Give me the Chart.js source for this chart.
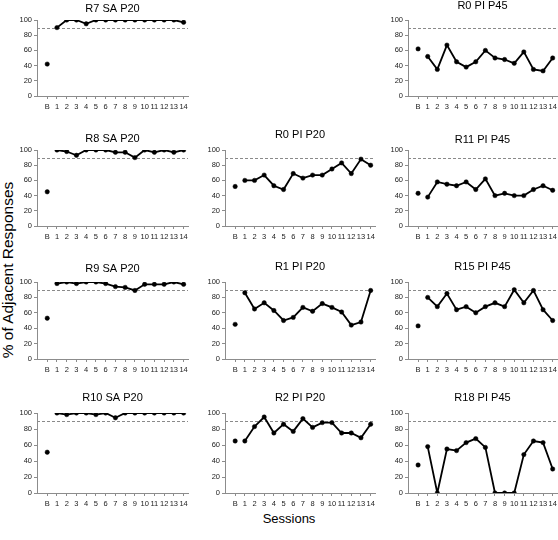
<!DOCTYPE html>
<html>
<head>
<meta charset="utf-8">
<script src="https://cdn.jsdelivr.net/npm/chart.js@4.4.1/dist/chart.umd.min.js"></script>
<style>
  body { margin: 0; background: #fff; }
  #page { position: relative; width: 558px; height: 540px; overflow: hidden; }
  #page canvas { position: absolute; }
  .axis-title { position: absolute; color: #000; white-space: nowrap; }
  #ytitle { left: 8px; top: 270px; font: 15.5px "Liberation Sans", Arial, sans-serif;
            transform: translate(-50%, -50%) rotate(-90deg); }
  #xtitle { left: 289px; top: 518px; font: 13px "Liberation Sans", Arial, sans-serif;
            transform: translate(-50%, -50%); }
</style>
</head>
<body>
<div id="page">
  <div class="axis-title" id="ytitle">% of Adjacent Responses</div>
  <div class="axis-title" id="xtitle">Sessions</div>
</div>
<script>
// x categories: baseline "B" then sessions 1-14
const sessionLabels = ["B", "1", "2", "3", "4", "5", "6", "7", "8", "9", "10", "11", "12", "13", "14"];
const yTicks = [0, 20, 40, 60, 80, 100];
const criterion = 90;

// % adjacent responses, first value is baseline (B)
const r7SaP20  = [42, 90, 100, 100, 95, 100, 100, 100, 100, 100, 100, 100, 100, 100, 97];
const r0PiP45  = [62, 52, 35, 67, 45, 38, 45, 60, 50, 48, 43, 58, 35, 33, 50];
const r8SaP20  = [45, 100, 98, 93, 100, 100, 100, 97, 97, 90, 100, 97, 100, 97, 100];
const r0PiP20  = [52, 60, 60, 67, 53, 48, 69, 63, 67, 67, 75, 83, 69, 88, 80];
const r11PiP45 = [43, 38, 58, 55, 53, 58, 48, 62, 40, 43, 40, 40, 48, 53, 47];
const r9SaP20  = [53, 98, 100, 98, 100, 100, 98, 94, 93, 89, 97, 97, 97, 100, 97];
const r1PiP20  = [45, 86, 65, 73, 63, 50, 54, 67, 62, 72, 67, 61, 44, 48, 89];
const r15PiP45 = [43, 80, 68, 85, 64, 68, 60, 68, 73, 68, 90, 73, 89, 64, 50];
const r10SaP20 = [51, 100, 98, 100, 100, 98, 100, 94, 100, 100, 100, 100, 100, 100, 100];
const r2PiP20  = [65, 65, 83, 95, 75, 86, 77, 93, 82, 88, 88, 75, 75, 69, 86];
const r18PiP45 = [35, 58, 0, 55, 53, 63, 68, 57, 0, 0, 0, 48, 65, 63, 30];

// panel grid (pixel layout of the small multiples)
const columns = [
  { axisX: 37, plotWidth: 151 },
  { axisX: 225, plotWidth: 150 },
  { axisX: 408, plotWidth: 149 }
];
const rows = [
  { top: 20, bottom: 96 },
  { top: 150, bottom: 226 },
  { top: 282, bottom: 359 },
  { top: 413, bottom: 493 }
];

const panels = [
  { title: "R7 SA P20",  values: r7SaP20,  col: 0, row: 0, gap: 11 },
  { title: "R0 PI P45",  values: r0PiP45,  col: 2, row: 0, gap: 14 },
  { title: "R8 SA P20",  values: r8SaP20,  col: 0, row: 1, gap: 11 },
  { title: "R0 PI P20",  values: r0PiP20,  col: 1, row: 1, gap: 15 },
  { title: "R11 PI P45", values: r11PiP45, col: 2, row: 1, gap: 10 },
  { title: "R9 SA P20",  values: r9SaP20,  col: 0, row: 2, gap: 13 },
  { title: "R1 PI P20",  values: r1PiP20,  col: 1, row: 2, gap: 15 },
  { title: "R15 PI P45", values: r15PiP45, col: 2, row: 2, gap: 15 },
  { title: "R10 SA P20", values: r10SaP20, col: 0, row: 3, gap: 15 },
  { title: "R2 PI P20",  values: r2PiP20,  col: 1, row: 3, gap: 15 },
  { title: "R18 PI P45", values: r18PiP45, col: 2, row: 3, gap: 15 }
];

const fontFamily = '"Liberation Sans", Arial, sans-serif';
const axisGray = "#8c8c8c";
const Y_AXIS_W = 32;
const X_AXIS_H = 22;
const TITLE_LH = 12;

// dashed 90% criterion line across the plot area
const criterionLine = {
  id: "criterionLine",
  beforeDatasetsDraw(chart) {
    const y = chart.scales.y.getPixelForValue(criterion);
    const area = chart.chartArea;
    const ctx = chart.ctx;
    ctx.save();
    ctx.strokeStyle = "#8a8a8a";
    ctx.lineWidth = 1;
    ctx.setLineDash([3, 2]);
    ctx.beginPath();
    ctx.moveTo(area.left, Math.round(y) + 0.5);
    ctx.lineTo(area.right, Math.round(y) + 0.5);
    ctx.stroke();
    ctx.restore();
  }
};

const page = document.getElementById("page");

panels.forEach(function(p) {
  const col = columns[p.col];
  const row = rows[p.row];
  const titleGap = p.gap - TITLE_LH / 2;
  const canvas = document.createElement("canvas");
  const w = Y_AXIS_W + col.plotWidth + 6;
  const h = TITLE_LH + titleGap + (row.bottom - row.top) + X_AXIS_H;
  canvas.width = w;
  canvas.height = h;
  canvas.style.left = (col.axisX - Y_AXIS_W) + "px";
  canvas.style.top = (row.top - TITLE_LH - titleGap) + "px";
  page.appendChild(canvas);

  const baseline = [{ x: 0, y: p.values[0] }];
  const sessions = p.values.slice(1).map(function(v, i) { return { x: i + 1, y: v }; });

  new Chart(canvas.getContext("2d"), {
    type: "line",
    data: {
      datasets: [
        {
          data: baseline,
          showLine: false,
          pointRadius: 2.2,
          pointBorderWidth: 0.5,
          pointBackgroundColor: "#000",
          pointBorderColor: "#000"
        },
        {
          data: sessions,
          borderColor: "#000",
          borderWidth: 1.8,
          tension: 0,
          pointRadius: 2.2,
          pointBorderWidth: 0.5,
          pointBackgroundColor: "#000",
          pointBorderColor: "#000"
        }
      ]
    },
    options: {
      responsive: false,
      animation: false,
      layout: { padding: { left: 0, right: 6, top: 0, bottom: 0 } },
      plugins: {
        legend: { display: false },
        tooltip: { enabled: false },
        title: {
          display: true,
          fullSize: false, // centre the title over the plot area only
          text: p.title,
          color: "#000",
          font: { family: fontFamily, size: 11, weight: "normal", lineHeight: TITLE_LH + "px" },
          padding: { top: 0, bottom: titleGap }
        }
      },
      scales: {
        x: {
          type: "linear",
          min: -1.05,
          max: 14.45,
          afterBuildTicks: function(scale) {
            scale.ticks = sessionLabels.map(function(_, i) { return { value: i }; });
          },
          afterFit: function(scale) { scale.height = X_AXIS_H; },
          border: { color: axisGray, width: 1 },
          grid: { drawOnChartArea: false, color: axisGray, tickLength: 3 },
          ticks: {
            autoSkip: false,
            maxRotation: 0,
            padding: 3,
            color: "#222",
            font: { family: fontFamily, size: 7.5 },
            callback: function(v) { return sessionLabels[v]; }
          }
        },
        y: {
          min: 0,
          max: 100,
          afterBuildTicks: function(scale) {
            scale.ticks = yTicks.map(function(v) { return { value: v }; });
          },
          afterFit: function(scale) { scale.width = Y_AXIS_W; },
          border: { color: axisGray, width: 1 },
          grid: { drawOnChartArea: false, color: axisGray, tickLength: 3 },
          ticks: {
            padding: 2,
            color: "#222",
            font: { family: fontFamily, size: 7.5 }
          }
        }
      }
    },
    plugins: [criterionLine]
  });
});
</script>
</body>
</html>
